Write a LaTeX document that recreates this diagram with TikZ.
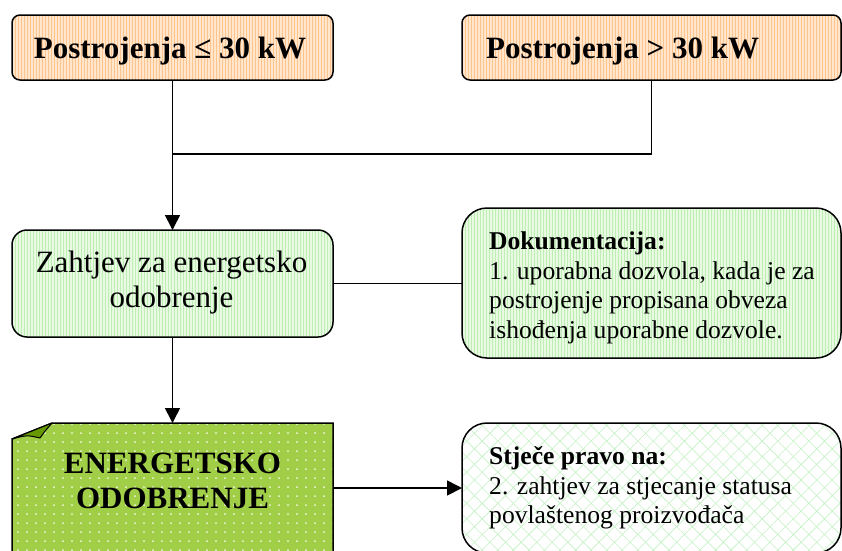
\documentclass[tikz,border=0pt]{standalone}
\usepackage{fontspec}
\setmainfont{Liberation Serif}
\usetikzlibrary{arrows.meta,patterns,patterns.meta,calc}
\definecolor{peach}{RGB}{255,230,204}
\definecolor{peachline}{RGB}{255,196,140}
\definecolor{mint}{RGB}{232,250,226}
\definecolor{mintline}{RGB}{190,238,180}
\definecolor{lime}{RGB}{160,206,70}
\definecolor{foldgreen}{RGB}{102,153,0}
\definecolor{hatchgreen}{RGB}{196,242,196}
\begin{document}
\begin{tikzpicture}[x=1pt,y=-1pt,
  box/.style={draw=black, line width=1.5pt, inner sep=0pt, outer sep=0pt},
  orangebox/.style={box, rounded corners=8pt, preaction={fill=peach}, pattern=vertical lines, pattern color=peachline},
  greenbox/.style={box, preaction={fill=mint}, pattern=vertical lines, pattern color=mintline},
  hatchbox/.style={box, rounded corners=25pt, preaction={fill=white}, pattern={Hatch[angle=45,distance=11pt,line width=0.6pt]}, pattern color=hatchgreen},
  bigtxt/.style={font=\fontsize{31}{35}\selectfont, inner sep=0pt},
  smalltxt/.style={font=\fontsize{25.6}{29.5}\selectfont, inner sep=0pt, align=left},
  conn/.style={line width=1.7pt},
  arrow/.style={conn, -{Triangle[length=15pt,width=15pt]}}
]
\clip (0,0) rectangle (842,550);
\useasboundingbox (0,0) rectangle (842,550);

% boxes
\node[orangebox, minimum width=321pt, minimum height=65pt] (b1) at (172.5,47.5) {};
\node[orangebox, minimum width=379pt, minimum height=65pt] (b2) at (651.5,47.5) {};
\node[greenbox, rounded corners=15pt, minimum width=321pt, minimum height=107pt] (b3) at (172.5,283.5) {};
\node[greenbox, rounded corners=25pt, minimum width=379pt, minimum height=150pt] (b4) at (651.5,283) {};
\node[inner sep=0pt, outer sep=0pt, minimum width=321pt, minimum height=130pt] (b5) at (172.5,488) {};
\node[hatchbox, minimum width=379pt, minimum height=130pt] (b6) at (651.5,488) {};

% folded document shape
\draw[box, preaction={fill=lime}, pattern={Dots[distance=9pt,radius=1pt]}, pattern color=white!85!lime]
  ($(b5.north west)+(0,16)$) -- ($(b5.north west)+(40,0)$) -- (b5.north east)
  -- (b5.south east) -- (b5.south west) -- cycle;
\draw[line width=1pt, fill=foldgreen, line join=round]
  ($(b5.north west)+(0,16)$) -- ($(b5.north west)+(40,0)$)
  .. controls ($(b5.north west)+(33,8)$) .. ($(b5.north west)+(28,15)$)
  .. controls ($(b5.north west)+(15,12)$) .. cycle;

% texts
\node[bigtxt, anchor=base] (t1) at (170,58) {\bfseries Postrojenja ≤ 30 kW};
\node[bigtxt, anchor=base west] (t2) at (486,58) {\bfseries Postrojenja > 30 kW};
\node[bigtxt, align=center] (t3) at (171.5,283) {Zahtjev za energetsko\\odobrenje};
\node[bigtxt, align=center] (t5) at (172.5,481) {\bfseries ENERGETSKO\\\bfseries ODOBRENJE};
\node[smalltxt, anchor=west] (t4) at (489,288) {\textbf{Dokumentacija:}\\1. uporabna dozvola, kada je za\\postrojenje propisana obveza\\ishođenja uporabne dozvole.};
\node[smalltxt, anchor=west] (t6) at (489,488) {\textbf{Stječe pravo na:}\\2. zahtjev za stjecanje statusa\\povlaštenog proizvođača};

% connectors
\coordinate (j) at (172.5,154);
\draw[arrow] (b1) -- (b3);
\draw[conn] (b2.south) |- (j);
\draw[conn] (b3.east) -- (b4.west |- b3.east);
\draw[arrow] (b3) -- (b5);
\draw[arrow] (b5) -- (b6);
\end{tikzpicture}
\end{document}
